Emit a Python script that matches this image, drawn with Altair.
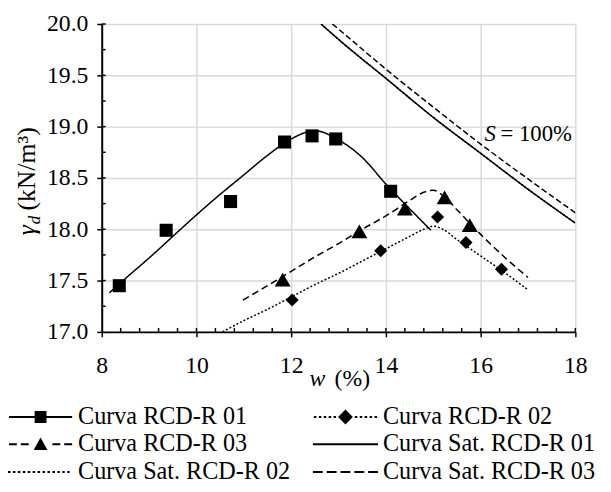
import altair as alt
import pandas as pd

FONT = "Liberation Serif"

# ---- measured data ----
w_r01 = [8.37, 9.36, 10.72, 11.86, 12.44, 12.94, 14.10]
g_r01 = [17.45, 17.99, 18.27, 18.85, 18.91, 18.88, 18.37]
w_r02 = [12.02, 13.89, 15.09, 15.69, 16.44]
g_r02 = [17.31, 17.79, 18.12, 17.87, 17.61]
w_r03 = [11.82, 13.44, 14.40, 15.24, 15.77]
g_r03 = [17.51, 17.98, 18.20, 18.31, 18.04]

fit01_w = [8.16, 8.5, 9.0, 9.5, 10.0, 10.5, 11.0, 11.5, 12.0, 12.5, 13.0, 13.5, 14.0, 14.5, 14.95]
fit01_g = [17.38, 17.52, 17.72, 17.93, 18.14, 18.34, 18.53, 18.72, 18.88, 18.96, 18.87, 18.70, 18.44, 18.20, 17.99]
fit02_w = [10.55, 11.0, 11.5, 12.0, 12.5, 13.0, 13.5, 14.0, 14.5, 14.8, 15.0, 15.2, 15.5, 16.0, 16.5, 17.0]
fit02_g = [17.00, 17.11, 17.22, 17.34, 17.46, 17.57, 17.69, 17.81, 17.93, 18.00, 18.03, 18.00, 17.90, 17.74, 17.58, 17.41]
fit03_w = [10.98, 11.5, 12.0, 12.5, 13.0, 13.5, 14.0, 14.5, 14.8, 15.0, 15.2, 15.5, 16.0, 16.5, 17.0]
fit03_g = [17.31, 17.45, 17.59, 17.73, 17.86, 18.00, 18.13, 18.28, 18.36, 18.38, 18.33, 18.19, 17.95, 17.73, 17.53]
sat01_w = [12.63, 13.0, 14.0, 15.0, 16.0, 17.0, 18.0]
sat01_g = [20.00, 19.85, 19.47, 19.09, 18.74, 18.39, 18.06]
sat02_w = [12.63, 13.0, 14.0, 15.0, 16.0, 17.0, 18.0]
sat02_g = [20.00, 19.85, 19.47, 19.09, 18.74, 18.39, 18.06]
sat03_w = [12.87, 13.0, 14.0, 15.0, 16.0, 17.0, 18.0]
sat03_g = [20.00, 19.95, 19.56, 19.19, 18.83, 18.49, 18.16]

series = ["Curva RCD-R 01", "Curva RCD-R 02", "Curva RCD-R 03",
          "Curva Sat. RCD-R 01", "Curva Sat. RCD-R 02", "Curva Sat. RCD-R 03"]

x_ticks = [8, 10, 12, 14, 16, 18]
y_ticks = [17.0, 17.5, 18.0, 18.5, 19.0, 19.5, 20.0]
x_ticks_in = [8.4, 8.8, 9.2, 9.6, 10.0, 10.4, 10.8, 11.2, 11.6, 12.0, 12.4, 12.8, 13.2,
              13.6, 14.0, 14.4, 14.8, 15.2, 15.6, 16.0, 16.4, 16.8, 17.2, 17.6, 18.0]
y_ticks_in = [17.25, 17.5, 17.75, 18.0, 18.25, 18.5, 18.75, 19.0, 19.25, 19.5, 19.75, 20.0]

# ---- legend symbol paths (pixel offsets / unit), drawn as filled shapes ----
U = 13.0
T = 1.0  # half line thickness in px


def f(v):
    return f"{v/U:.3f}"


def seg(a, b, t=T):
    return f"M{f(a)},{f(-t)}L{f(b)},{f(-t)}L{f(b)},{f(t)}L{f(a)},{f(t)}Z"


def dots(a, b, period=5.0, length=2.5):
    out, x = "", a
    while x + length <= b + 0.01:
        out += seg(x, x + length)
        x += period
    return out


def square(h):
    return f"M{f(-h)},{f(-h)}L{f(h)},{f(-h)}L{f(h)},{f(h)}L{f(-h)},{f(h)}Z"


def diamond(h):
    return f"M{f(-h)},0L0,{f(-h)}L{f(h)},0L0,{f(h)}Z"


def triangle(h):
    return f"M{f(-h)},{f(0.8*h)}L{f(h)},{f(0.8*h)}L0,{f(-h)}Z"


sym = [
    seg(-32, 32) + square(6),
    dots(-32, -9) + diamond(7.5) + dots(9.5, 32),
    seg(-32, -24) + seg(-20, -12) + triangle(7) + seg(12, 20) + seg(24, 32),
    seg(-33, 33),
    dots(-33, 33),
    "".join(seg(-33 + 14 * k, -33 + 14 * k + 10) for k in range(5)),
]

xs = alt.Scale(domain=[8, 18], nice=False, zero=False)
ys = alt.Scale(domain=[17, 20], nice=False, zero=False)

x_axis = alt.Axis(values=x_ticks, grid=True, gridColor="#d9d9d9", gridWidth=1.5,
                  domainColor="black", domainWidth=2, tickColor="black", tickWidth=1.5,
                  tickSize=5, labelFont=FONT, labelFontSize=24, labelColor="black",
                  labelPadding=17, labelFlush=False, format="d", title=None)
y_axis = alt.Axis(values=y_ticks, grid=True, gridColor="#d9d9d9", gridWidth=1.5,
                  domainColor="black", domainWidth=2, tickColor="black", tickWidth=1.5,
                  tickSize=5, labelFont=FONT, labelFontSize=24, labelColor="black",
                  labelPadding=9, labelFlush=False, format=".1f", title=None)


def curve(ws, gs, dash, axes=False):
    df = pd.DataFrame({"w": ws, "g": gs})
    if axes:
        enc = dict(x=alt.X("w:Q", scale=xs, axis=x_axis), y=alt.Y("g:Q", scale=ys, axis=y_axis))
    else:
        enc = dict(x="w:Q", y="g:Q")
    return alt.Chart(df).mark_line(interpolate="monotone", clip=True, color="black",
                                   strokeWidth=1.5, strokeDash=dash).encode(**enc)


c_fit01 = curve(fit01_w, fit01_g, [1, 0], axes=True)
c_fit02 = curve(fit02_w, fit02_g, [2, 2])
c_fit03 = curve(fit03_w, fit03_g, [7, 4])
c_sat02 = curve(sat02_w, sat02_g, [2, 2])
c_sat01 = curve(sat01_w, sat01_g, [1, 0])
c_sat03 = curve(sat03_w, sat03_g, [6, 3])


def pts(ws, gs, shape, size):
    return alt.Chart(pd.DataFrame({"w": ws, "g": gs})).mark_point(
        shape=shape, filled=True, color="black", opacity=1, size=size).encode(x="w:Q", y="g:Q")


pts01 = pts(w_r01, g_r01, "square", 175)
pts02 = pts(w_r02, g_r02, "diamond", 175)
pts03 = pts(w_r03, g_r03, "triangle-up", 260)

# legend-only layer: one entry per series, placed outside the clipped plot area
legend_layer = alt.Chart(pd.DataFrame({"series": series})).mark_point(
    filled=True, color="black", opacity=1, clip=True,
).encode(
    x=alt.value(-1000), y=alt.value(-1000),
    shape=alt.Shape("series:N", scale=alt.Scale(domain=series, range=sym),
                    legend=alt.Legend(
                        title=None, orient="none", legendX=-94, legendY=385,
                        direction="horizontal",
                        columns=2, columnPadding=22, rowPadding=3,
                        symbolSize=676, symbolStrokeWidth=0, symbolOffset=19,
                        symbolFillColor="black", symbolOpacity=1,
                        labelOffset=25, labelFont=FONT, labelFontSize=24.5,
                        labelColor="black", labelLimit=400, padding=0)),
)

x_in = alt.Chart(pd.DataFrame({"w": x_ticks_in})).mark_rule(color="black", strokeWidth=1.5).encode(
    x="w:Q", y=alt.value(312), y2=alt.value(308))
y_in = alt.Chart(pd.DataFrame({"g": y_ticks_in})).mark_rule(color="black", strokeWidth=1.5).encode(
    y="g:Q", x=alt.value(0), x2=alt.value(4))


def txt(t, size, italic=False, angle=0, **enc):
    kw = dict(text=t, font=FONT, fontSize=size, color="black", align="left",
              baseline="alphabetic", angle=angle)
    if italic:
        kw["fontStyle"] = "italic"
    return alt.Chart(pd.DataFrame({"k": [0]})).mark_text(**kw).encode(**enc)


s_lab = txt("S", 23, True, x=alt.datum(16.08), y=alt.datum(18.86))
eq_lab = txt("= 100%", 23, False, x=alt.datum(16.42), y=alt.datum(18.86))

yt1 = txt("γ", 26, True, 270, x=alt.value(-68), y=alt.value(214))
yt2 = txt("d", 17, True, 270, x=alt.value(-63), y=alt.value(203))
yt3 = txt("(kN/m³)", 26, False, 270, x=alt.value(-68), y=alt.value(189))
xt1 = txt("w", 24, True, x=alt.value(210.6), y=alt.value(367))
xt2 = txt("(%)", 24, False, x=alt.value(236), y=alt.value(367))

chart = alt.layer(
    c_fit01, c_fit02, c_fit03, c_sat02, c_sat01, c_sat03,
    pts01, pts02, pts03, legend_layer, x_in, y_in,
    s_lab, eq_lab, yt1, yt2, yt3, xt1, xt2,
).properties(
    width=480, height=312,
    autosize=alt.AutoSizeParams(type="none"),
    padding={"left": 95, "top": 13, "right": 28, "bottom": 155},
    background="white",
).configure_view(stroke=None)

chart.save("out.html", embed_options={"renderer": "svg", "actions": False})
